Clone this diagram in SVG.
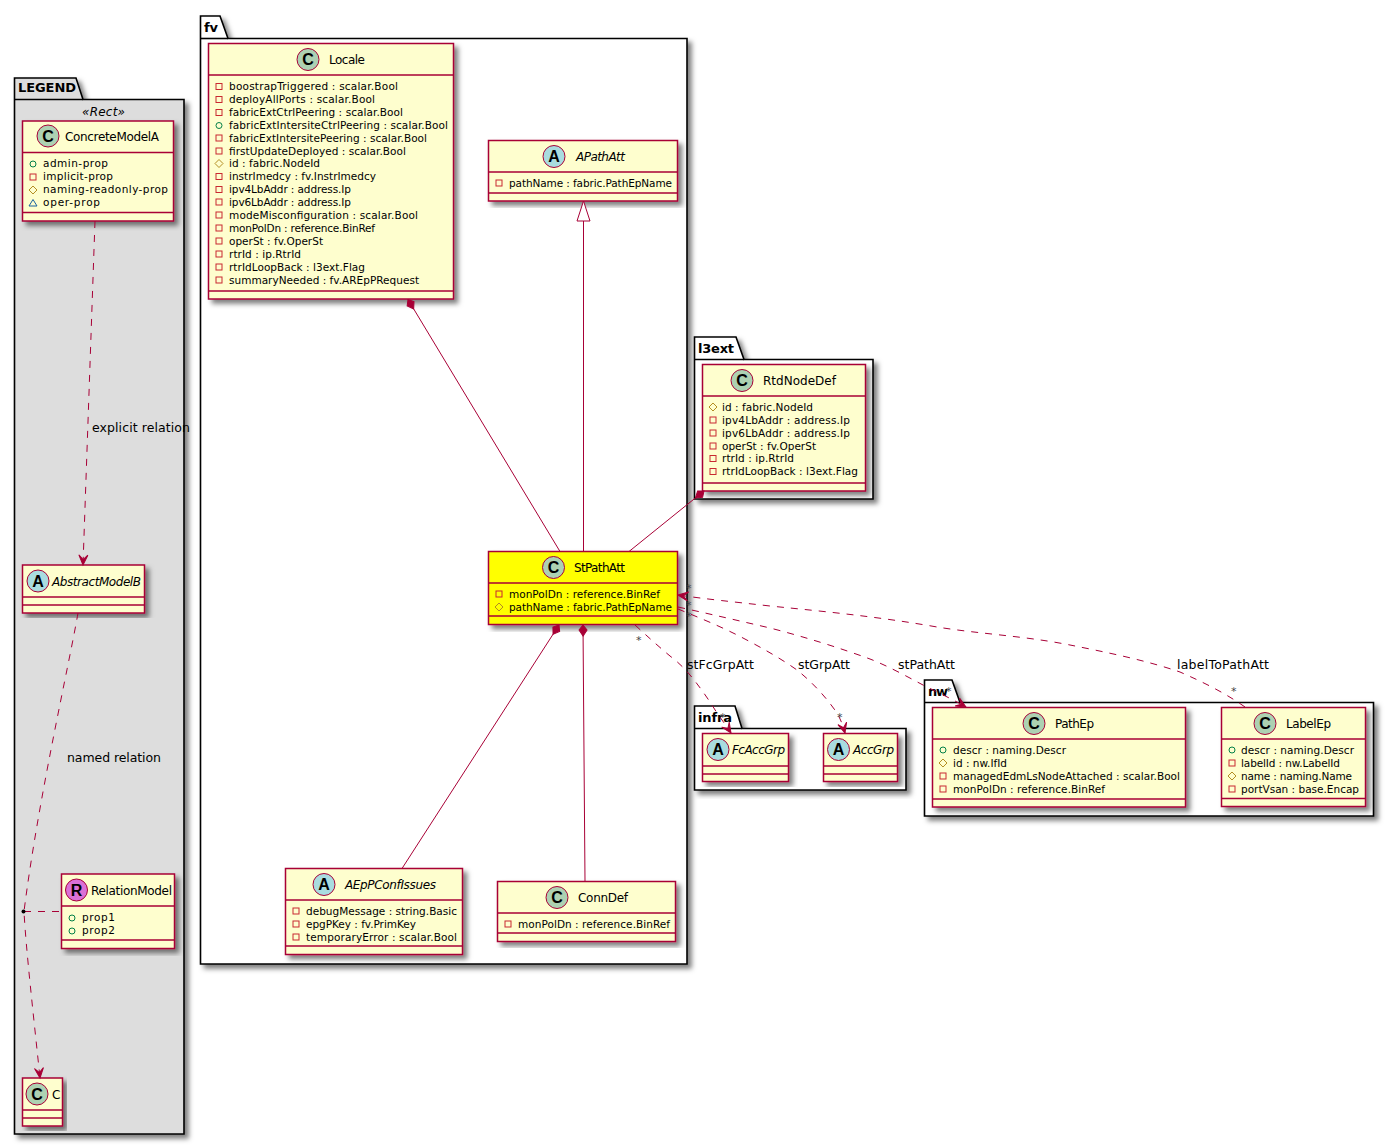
<svg xmlns="http://www.w3.org/2000/svg" xmlns:xlink="http://www.w3.org/1999/xlink" width="1394" height="1145" viewBox="0 0 1394 1145">
<style>
text{font-family:"DejaVu Sans","Liberation Sans",sans-serif;fill:#000}
.a{font-size:10.5px}
.t{font-size:12px}
.i{font-style:italic}
.l{font-size:12.5px}
.p{font-size:13px;font-weight:bold}
.m{font-size:11px;fill:#444}
.g{font-family:"Liberation Sans",sans-serif;font-size:16px;font-weight:bold;text-anchor:middle}
.pkg{fill:#fff;stroke:#000;stroke-width:1.6;filter:url(#s)}
.leg{fill:#ddd}
.tl{stroke:#000;stroke-width:1.6;fill:none}
.box{fill:#FEFECE;stroke:#A80036;stroke-width:1.5;filter:url(#s)}
.hl{fill:#FF0}
.sep{stroke:#A80036;stroke-width:1.5;fill:none}
.cc{fill:#ADD1B2;stroke:#A80036}
.ca{fill:#A9DCDF;stroke:#A80036}
.cr{fill:#DA70D6;stroke:#A80036}
.ln{stroke:#A80036;fill:none;stroke-width:1}
.d{stroke-dasharray:7 7}
.cmp{marker-start:url(#dia)}
.arr{marker-end:url(#open)}
</style>
<defs>
<filter id="s" x="-5%" y="-5%" width="115%" height="115%"><feDropShadow dx="4" dy="4" stdDeviation="2.4" flood-color="#000" flood-opacity="0.5"/></filter>
<marker id="open" markerUnits="userSpaceOnUse" markerWidth="14" markerHeight="12" refX="11" refY="6" orient="auto"><path d="M11,6L1,1.500L5.500,6L1,10.500Z" fill="#A80036" stroke="#A80036"/></marker>
<marker id="dia" markerUnits="userSpaceOnUse" markerWidth="14" markerHeight="12" refX="1" refY="6" orient="auto"><path d="M1,6L6,2L12,6L6,10Z" fill="#A80036" stroke="#A80036"/></marker>
<g id="pr"><rect x="-3" y="-3" width="6" height="6" fill="none" stroke="#C82930"/></g>
<g id="pu"><circle r="3" fill="none" stroke="#038048"/></g>
<g id="pt"><path d="M0,-4L4,0L0,4L-4,0Z" fill="none" stroke="#B38D22"/></g>
<g id="pk"><path d="M0,-3.500L4,3L-4,3Z" fill="none" stroke="#1963A0"/></g>
</defs>

<g id="pkg-legend"><path class="pkg leg" d="M14.500,78H76L83,99.500H184V1134H14.500Z"/><path class="tl" d="M14.500,99.500H83"/><text class="p" x="18" y="92" textLength="58">LEGEND</text><text class="t i" x="82" y="116" textLength="43">«Rect»</text></g>
<g id="pkg-fv"><path class="pkg" d="M200.500,16H220L228,38.500H687V964H200.500Z"/><path class="tl" d="M200.500,38.500H228"/><text class="p" x="204" y="32" textLength="14">fv</text></g>
<g id="pkg-l3ext"><path class="pkg" d="M694.500,337H736L744,359.500H873V499H694.500Z"/><path class="tl" d="M694.500,359.500H744"/><text class="p" x="698" y="353" textLength="36">l3ext</text></g>
<g id="pkg-infra"><path class="pkg" d="M694.500,706H735L742,728.500H906V790H694.500Z"/><path class="tl" d="M694.500,728.500H742"/><text class="p" x="698" y="722" textLength="34">infra</text></g>
<g id="pkg-nw"><path class="pkg" d="M924.500,680H952L960,702.500H1373.500V816H924.500Z"/><path class="tl" d="M924.500,702.500H960"/><text class="p" x="928" y="696" textLength="20">nw</text></g>

<g id="ConcreteModelA"><rect class="box" x="22.500" y="121" width="151" height="100"/><path class="sep" d="M22.500,152.500H173.500M22.500,212.500H173.500"/><circle class="cc" cx="48" cy="136" r="11"/><text class="g" x="48" y="141.500">C</text><text class="t" x="65" y="141" textLength="94">ConcreteModelA</text>
<use href="#pu" x="33" y="164"/><text class="a" x="43" y="167" textLength="65">admin-prop</text>
<use href="#pr" x="33" y="177"/><text class="a" x="43" y="180" textLength="70">implicit-prop</text>
<use href="#pt" x="33" y="190"/><text class="a" x="43" y="193" textLength="125">naming-readonly-prop</text>
<use href="#pk" x="33" y="203"/><text class="a" x="43" y="206" textLength="57">oper-prop</text></g>

<g id="AbstractModelB"><rect class="box" x="22.500" y="565" width="122" height="48"/><path class="sep" d="M22.500,597H144.500M22.500,605H144.500"/><circle class="ca" cx="38" cy="581" r="11"/><text class="g" x="38" y="586.500">A</text><text class="t i" x="52" y="586" textLength="89">AbstractModelB</text></g>

<g id="RelationModel"><rect class="box" x="61.500" y="874" width="113" height="74.500"/><path class="sep" d="M61.500,906H174.500M61.500,940H174.500"/><circle class="cr" cx="76.500" cy="890" r="11"/><text class="g" x="76.500" y="895.500">R</text><text class="t" x="91" y="895" textLength="81">RelationModel</text>
<use href="#pu" x="72" y="918"/><text class="a" x="82" y="921" textLength="33">prop1</text>
<use href="#pu" x="72" y="931"/><text class="a" x="82" y="934" textLength="33">prop2</text></g>

<g id="C"><rect class="box" x="22.500" y="1078" width="40" height="48"/><path class="sep" d="M22.500,1110H62.500M22.500,1118H62.500"/><circle class="cc" cx="37" cy="1094" r="11"/><text class="g" x="37" y="1099.500">C</text><text class="t" x="52" y="1099" textLength="7">C</text></g>

<g id="Locale"><rect class="box" x="208.500" y="43.500" width="245" height="255.500"/><path class="sep" d="M208.500,75H453.500M208.500,291H453.500"/><circle class="cc" cx="308" cy="59.500" r="11"/><text class="g" x="308" y="65">C</text><text class="t" x="329" y="64" textLength="36">Locale</text>
<use href="#pr" x="219" y="86.500"/><text class="a" x="229" y="90" textLength="169">boostrapTriggered : scalar.Bool</text>
<use href="#pr" x="219" y="99.500"/><text class="a" x="229" y="103" textLength="146">deployAllPorts : scalar.Bool</text>
<use href="#pr" x="219" y="112.500"/><text class="a" x="229" y="116" textLength="174">fabricExtCtrlPeering : scalar.Bool</text>
<use href="#pu" x="219" y="125.500"/><text class="a" x="229" y="129" textLength="219">fabricExtIntersiteCtrlPeering : scalar.Bool</text>
<use href="#pr" x="219" y="138"/><text class="a" x="229" y="141.500" textLength="198">fabricExtIntersitePeering : scalar.Bool</text>
<use href="#pr" x="219" y="151"/><text class="a" x="229" y="154.500" textLength="177">firstUpdateDeployed : scalar.Bool</text>
<use href="#pt" x="219" y="163.500"/><text class="a" x="229" y="167" textLength="91">id : fabric.NodeId</text>
<use href="#pr" x="219" y="176.500"/><text class="a" x="229" y="180" textLength="147">instrImedcy : fv.InstrImedcy</text>
<use href="#pr" x="219" y="189.500"/><text class="a" x="229" y="193" textLength="122">ipv4LbAddr : address.Ip</text>
<use href="#pr" x="219" y="202"/><text class="a" x="229" y="205.500" textLength="122">ipv6LbAddr : address.Ip</text>
<use href="#pr" x="219" y="215"/><text class="a" x="229" y="218.500" textLength="189">modeMisconfiguration : scalar.Bool</text>
<use href="#pr" x="219" y="228"/><text class="a" x="229" y="231.500" textLength="146">monPolDn : reference.BinRef</text>
<use href="#pr" x="219" y="241"/><text class="a" x="229" y="244.500" textLength="94">operSt : fv.OperSt</text>
<use href="#pr" x="219" y="254"/><text class="a" x="229" y="257.500" textLength="72">rtrId : ip.RtrId</text>
<use href="#pr" x="219" y="267"/><text class="a" x="229" y="270.500" textLength="136">rtrIdLoopBack : l3ext.Flag</text>
<use href="#pr" x="219" y="280"/><text class="a" x="229" y="283.500" textLength="190">summaryNeeded : fv.AREpPRequest</text></g>

<g id="APathAtt"><rect class="box" x="488.500" y="140.500" width="189" height="60.500"/><path class="sep" d="M488.500,172H677.500M488.500,193H677.500"/><circle class="ca" cx="554" cy="156.500" r="11"/><text class="g" x="554" y="162">A</text><text class="t i" x="576" y="161" textLength="49">APathAtt</text>
<use href="#pr" x="499" y="183"/><text class="a" x="509" y="186.500" textLength="163">pathName : fabric.PathEpName</text></g>

<g id="StPathAtt"><rect class="box hl" x="488.500" y="551.500" width="189" height="73"/><path class="sep" d="M488.500,583H677.500M488.500,616H677.500"/><circle class="cc" cx="553.500" cy="567.500" r="11"/><text class="g" x="553.500" y="573">C</text><text class="t" x="574" y="572" textLength="51">StPathAtt</text>
<use href="#pr" x="499" y="594"/><text class="a" x="509" y="597.500" textLength="151">monPolDn : reference.BinRef</text>
<use href="#pt" x="499" y="607"/><text class="a" x="509" y="610.500" textLength="163">pathName : fabric.PathEpName</text></g>

<g id="AEpPConfIssues"><rect class="box" x="285.500" y="868.500" width="177" height="86"/><path class="sep" d="M285.500,900H462.500M285.500,946H462.500"/><circle class="ca" cx="324" cy="884.500" r="11"/><text class="g" x="324" y="890">A</text><text class="t i" x="345" y="889" textLength="91">AEpPConfIssues</text>
<use href="#pr" x="296" y="911"/><text class="a" x="306" y="914.500" textLength="151">debugMessage : string.Basic</text>
<use href="#pr" x="296" y="924"/><text class="a" x="306" y="927.500" textLength="110">epgPKey : fv.PrimKey</text>
<use href="#pr" x="296" y="937"/><text class="a" x="306" y="940.500" textLength="151">temporaryError : scalar.Bool</text></g>

<g id="ConnDef"><rect class="box" x="497.500" y="881.500" width="178" height="60"/><path class="sep" d="M497.500,913H675.500M497.500,933H675.500"/><circle class="cc" cx="557" cy="897.500" r="11"/><text class="g" x="557" y="903">C</text><text class="t" x="578" y="902" textLength="50">ConnDef</text>
<use href="#pr" x="508" y="924"/><text class="a" x="518" y="927.500" textLength="152">monPolDn : reference.BinRef</text></g>

<g id="RtdNodeDef"><rect class="box" x="702.500" y="364.500" width="163" height="126.500"/><path class="sep" d="M702.500,396H865.500M702.500,483H865.500"/><circle class="cc" cx="742" cy="380.500" r="11"/><text class="g" x="742" y="386">C</text><text class="t" x="763" y="385" textLength="73">RtdNodeDef</text>
<use href="#pt" x="713" y="407"/><text class="a" x="722" y="410.500" textLength="91">id : fabric.NodeId</text>
<use href="#pr" x="713" y="420"/><text class="a" x="722" y="423.500" textLength="128">ipv4LbAddr : address.Ip</text>
<use href="#pr" x="713" y="433"/><text class="a" x="722" y="436.500" textLength="128">ipv6LbAddr : address.Ip</text>
<use href="#pr" x="713" y="446"/><text class="a" x="722" y="449.500" textLength="94">operSt : fv.OperSt</text>
<use href="#pr" x="713" y="458.500"/><text class="a" x="722" y="462" textLength="72">rtrId : ip.RtrId</text>
<use href="#pr" x="713" y="471.500"/><text class="a" x="722" y="475" textLength="136">rtrIdLoopBack : l3ext.Flag</text></g>

<g id="FcAccGrp"><rect class="box" x="702.500" y="733.500" width="86" height="48"/><path class="sep" d="M702.500,766H788.500M702.500,774H788.500"/><circle class="ca" cx="718" cy="749.500" r="11"/><text class="g" x="718" y="755">A</text><text class="t i" x="732" y="754" textLength="53">FcAccGrp</text></g>

<g id="AccGrp"><rect class="box" x="823.500" y="733.500" width="74" height="48"/><path class="sep" d="M823.500,766H897.500M823.500,774H897.500"/><circle class="ca" cx="838.500" cy="749.500" r="11"/><text class="g" x="838.500" y="755">A</text><text class="t i" x="853" y="754" textLength="41">AccGrp</text></g>

<g id="PathEp"><rect class="box" x="932.500" y="707.500" width="253" height="99.500"/><path class="sep" d="M932.500,739H1185.500M932.500,799H1185.500"/><circle class="cc" cx="1034" cy="723.500" r="11"/><text class="g" x="1034" y="729">C</text><text class="t" x="1055" y="728" textLength="39">PathEp</text>
<use href="#pu" x="943" y="750"/><text class="a" x="953" y="753.500" textLength="113">descr : naming.Descr</text>
<use href="#pt" x="943" y="763"/><text class="a" x="953" y="766.500" textLength="54">id : nw.IfId</text>
<use href="#pr" x="943" y="776"/><text class="a" x="953" y="779.500" textLength="227">managedEdmLsNodeAttached : scalar.Bool</text>
<use href="#pr" x="943" y="789"/><text class="a" x="953" y="792.500" textLength="152">monPolDn : reference.BinRef</text></g>

<g id="LabelEp"><rect class="box" x="1221.500" y="707.500" width="144" height="99"/><path class="sep" d="M1221.500,739H1365.500M1221.500,798.500H1365.500"/><circle class="cc" cx="1265" cy="723.500" r="11"/><text class="g" x="1265" y="729">C</text><text class="t" x="1286" y="728" textLength="45">LabelEp</text>
<use href="#pu" x="1232" y="750"/><text class="a" x="1241" y="753.500" textLength="113">descr : naming.Descr</text>
<use href="#pr" x="1232" y="763"/><text class="a" x="1241" y="766.500" textLength="99">labelId : nw.LabelId</text>
<use href="#pt" x="1232" y="776"/><text class="a" x="1241" y="779.500" textLength="111">name : naming.Name</text>
<use href="#pr" x="1232" y="789"/><text class="a" x="1241" y="792.500" textLength="118">portVsan : base.Encap</text></g>

<g id="connectors">
<path class="ln d arr" d="M95,221L83,565"/>
<path class="ln d arr" d="M78,613C69,665 38,800 24,911.500C26,950 34,1020 40,1078"/>
<path class="ln d" d="M24,911.500H61"/>
<circle cx="23.500" cy="911.500" r="2" fill="#000"/>
<path class="ln cmp" d="M408,299.500L560,551.500"/>
<path class="ln" d="M583.500,221V551.500"/>
<path d="M583.500,201L577,221H590Z" fill="#fff" stroke="#A80036"/>
<path class="ln cmp" d="M704,491L629,551.500"/>
<path class="ln cmp" d="M559,625L402,868.500"/>
<path class="ln cmp" d="M583,625L585,881.500"/>
<path class="ln d arr" d="M635,625C647,636 658,646 670,656C678,662 684,668 690,675C700,687 709,700 717,713C722,720 727,727 731,733"/>
<path class="ln d arr" d="M678,609C700,618 722,627 743,638C762,648 780,658 797,670C812,682 826,697 837,713C841,720 843,726 845,733"/>
<path class="ln d arr" d="M678,607C710,614 740,621 770,628C805,637 840,648 870,659C888,666 906,676 923,685C937,692 952,699 966,707"/>
<path class="ln d arr" d="M1245,707C1225,693 1205,683 1180,672C1145,660 1105,652 1070,645C1025,636 980,634 937,627C880,617 830,612 770,606C735,602 705,599 678,595"/>
</g>
<g id="labels">
<text class="l" x="92" y="432" textLength="98">explicit relation</text>
<text class="l" x="67" y="762" textLength="94">named relation</text>
<text class="l" x="687" y="669" textLength="67">stFcGrpAtt</text>
<text class="l" x="798" y="669" textLength="52">stGrpAtt</text>
<text class="l" x="898" y="669" textLength="57">stPathAtt</text>
<text class="l" x="1177" y="669" textLength="92">labelToPathAtt</text>
<text class="m" x="686" y="592">*</text><text class="m" x="686" y="609">*</text><text class="m" x="686" y="620">*</text><text class="m" x="636" y="644">*</text>
<text class="m" x="720" y="721">*</text><text class="m" x="837" y="721">*</text><text class="m" x="946" y="695">*</text><text class="m" x="1231" y="695">*</text>
</g>
</svg>
